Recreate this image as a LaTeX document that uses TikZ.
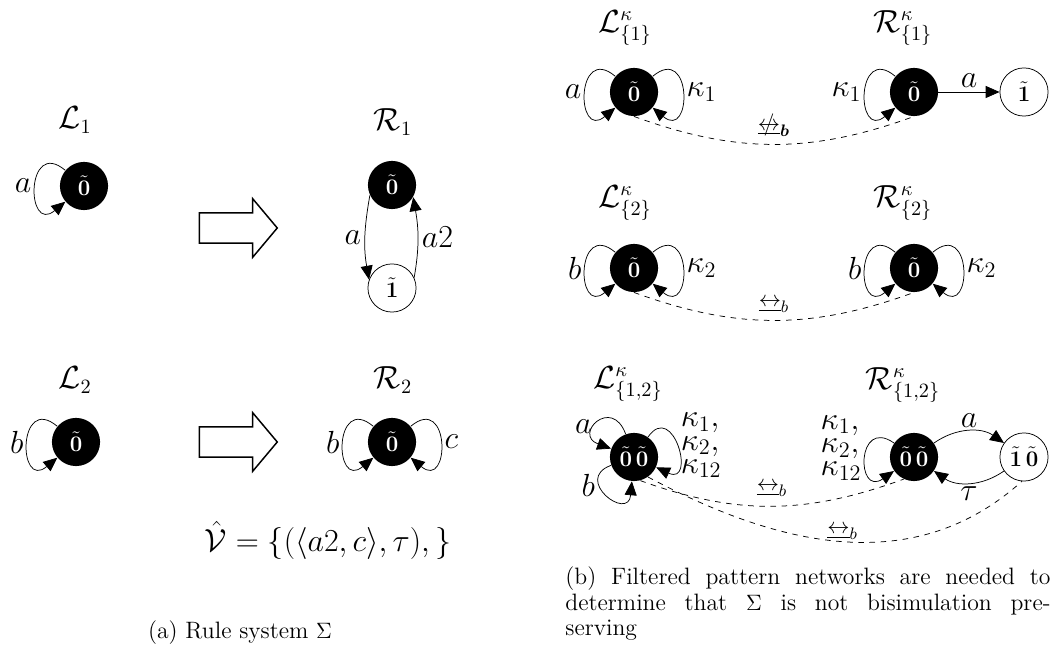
\documentclass[tikz,border=0pt]{standalone}
\usepackage{amsmath}
\usepackage{amssymb}
\usepackage{tikz}
\usetikzlibrary{shapes,arrows.meta,positioning}

\newcommand{\bisimb}{\mathrel{\underline{\leftrightarrow}}_b}
\newcommand{\nbisimb}{\mathrel{\ooalign{$\underline{\leftrightarrow}$\cr\hidewidth$/$\hidewidth\cr}}_{\boldsymbol{b}}}
\newcommand{\tzero}{\tilde{\mathbf{0}}}
\newcommand{\tone}{\tilde{\mathbf{1}}}

\begin{document}
\begin{tikzpicture}[
    x=0.54pt, y=0.54pt,
    blackstate/.style={circle, fill=black, text=white, minimum size=26pt, inner sep=0pt, font=\fontsize{13pt}{15pt}\selectfont},
    whitestate/.style={circle, draw, fill=white, minimum size=26pt, inner sep=0pt, font=\fontsize{13pt}{15pt}\selectfont},
    nettitle/.style={font=\fontsize{16pt}{19pt}\selectfont},
    lbl/.style={font=\fontsize{16.5pt}{12.5pt}\selectfont, inner sep=2pt},
    trans/.style={-{Triangle[length=7.5pt, width=6.5pt]}},
    selfloop/.style n args={3}{to path={(\tikztostart.#1) .. controls +(#1:#3) and +(#2:#3) .. (\tikztostart.#2) \tikztonodes}},
    bigarrow/.style={single arrow, draw, thick, minimum height=42pt, minimum width=31pt, single arrow head extend=7.6pt, single arrow tip angle=100, inner xsep=0pt, inner ysep=7.8pt},
    related/.style={dashed},
    bisimlbl/.style={inner sep=1pt, font=\fontsize{13pt}{15pt}\selectfont},
    caption/.style={font=\fontsize{12.8pt}{14pt}\selectfont}
]
\useasboundingbox (0,0) rectangle (1053,657);

% (a) rule system
\node[nettitle] (tl1) at (75,537) {$\mathcal{L}_1$};
\node[blackstate] (l1) at (84,471) {$\tzero$};
\draw[trans] (l1) to[selfloop={140}{220}{28pt}] node[lbl, left] {$a$} (l1);

\node[bigarrow] (arr1) at (232,429) {};

\node[nettitle] (tr1) at (393,535) {$\mathcal{R}_1$};
\node[blackstate] (r1a) at (392,472) {$\tzero$};
\node[whitestate] (r1b) at (392,369) {$\tone$};
\draw[trans] (r1a.205) to[out=260, in=100] node[lbl, left] {$a$} (r1b.160);
\draw[trans] (r1b.25) to[out=80, in=-80] node[lbl, right] {$a2$} (r1a.-30);

\node[nettitle] (tl2) at (75,277) {$\mathcal{L}_2$};
\node[blackstate] (l2) at (76,215) {$\tzero$};
\draw[trans] (l2) to[selfloop={140}{220}{28pt}] node[lbl, left] {$b$} (l2);

\node[bigarrow] (arr2) at (232,215) {};

\node[nettitle] (tr2) at (393,277) {$\mathcal{R}_2$};
\node[blackstate] (r2) at (392,215) {$\tzero$};
\draw[trans] (r2) to[selfloop={140}{220}{28pt}] node[lbl, left] {$b$} (r2);
\draw[trans] (r2) to[selfloop={40}{-40}{28pt}] node[lbl, right] {$c$} (r2);

\node[font=\fontsize{16.5pt}{19pt}\selectfont] (vhat) at (328,117) {$\hat{\mathcal{V}} = \{(\langle a2, c\rangle, \tau),\}$};
\node[caption] (capa) at (240,24) {(a) Rule system $\Sigma$};

% (b) filtered pattern networks
\node[nettitle] (tla) at (625,629) {$\mathcal{L}^{\kappa}_{\{1\}}$};
\node[nettitle] (tra) at (903,629) {$\mathcal{R}^{\kappa}_{\{1\}}$};
\node[blackstate] (la) at (634,565) {$\tzero$};
\node[blackstate] (ra) at (914,565) {$\tzero$};
\node[whitestate] (rb) at (1024,565) {$\tone$};
\draw[trans] (la) to[selfloop={140}{220}{28pt}] node[lbl, left] {$a$} (la);
\draw[trans] (la) to[selfloop={40}{-40}{28pt}] node[lbl, right] {$\kappa_1$} (la);
\draw[trans] (ra) to[selfloop={140}{220}{28pt}] node[lbl, left] {$\kappa_1$} (ra);
\draw[trans] (ra) -- node[lbl, above] {$a$} (rb);
\draw[related] (la.south) to[out=-20, in=-160] node[bisimlbl, above=3pt] {$\nbisimb$} (ra.south);

\node[nettitle] (tlb) at (625,454) {$\mathcal{L}^{\kappa}_{\{2\}}$};
\node[nettitle] (trb) at (903,454) {$\mathcal{R}^{\kappa}_{\{2\}}$};
\node[blackstate] (lb) at (634,389) {$\tzero$};
\node[blackstate] (rb2) at (914,389) {$\tzero$};
\draw[trans] (lb) to[selfloop={140}{220}{28pt}] node[lbl, left] {$b$} (lb);
\draw[trans] (lb) to[selfloop={40}{-40}{28pt}] node[lbl, right] {$\kappa_2$} (lb);
\draw[trans] (rb2) to[selfloop={140}{220}{28pt}] node[lbl, left] {$b$} (rb2);
\draw[trans] (rb2) to[selfloop={40}{-40}{28pt}] node[lbl, right] {$\kappa_2$} (rb2);
\draw[related] (lb.south) to[out=-20, in=-160] node[bisimlbl, above=3pt] {$\bisimb$} (rb2.south);

\node[nettitle] (tlc) at (628,273) {$\mathcal{L}^{\kappa}_{\{1,2\}}$};
\node[nettitle] (trc) at (903,272) {$\mathcal{R}^{\kappa}_{\{1,2\}}$};
\node[blackstate] (lc) at (634,200) {$\tzero\,\tzero$};
\node[blackstate] (rc) at (914,200) {$\tzero\,\tzero$};
\node[whitestate] (rd) at (1024,200) {$\tone\,\tzero$};
\draw[trans] (lc) to[selfloop={110}{160}{22pt}] node[lbl, left, pos=0.6] {$a$} (lc);
\draw[trans] (lc) to[selfloop={200}{265}{22pt}] node[lbl, left, pos=0.35] {$b$} (lc);
\draw[trans] (lc) to[selfloop={55}{-25}{24pt}] node[lbl, right, align=left] {$\kappa_1,$\\$\kappa_2,$\\$\kappa_{12}$} (lc);
\draw[trans] (rc) to[selfloop={145}{215}{25pt}] node[lbl, left, align=left, yshift=5pt] {$\kappa_1,$\\$\kappa_2,$\\$\kappa_{12}$} (rc);
\draw[trans] (rc) to[out=35, in=145] node[lbl, above] {$a$} (rd);
\draw[trans] (rd) to[out=-145, in=-35] node[lbl, below] {$\tau$} (rc);
\draw[related] (lc.-75) to[out=-20, in=-160] node[bisimlbl, above=4pt] {$\bisimb$} (rc.-115);
\draw[related] (lc.-55) to[out=-28, in=-138] node[bisimlbl, above=0pt] {$\bisimb$} (rd.-95);

\node[caption, anchor=north west, align=left, inner sep=0pt] (capb) at (565,91) {\makebox[262pt][s]{(b) Filtered pattern networks are needed to}\\\makebox[262pt][s]{determine that $\Sigma$ is not bisimulation pre-}\\serving};
\end{tikzpicture}
\end{document}
